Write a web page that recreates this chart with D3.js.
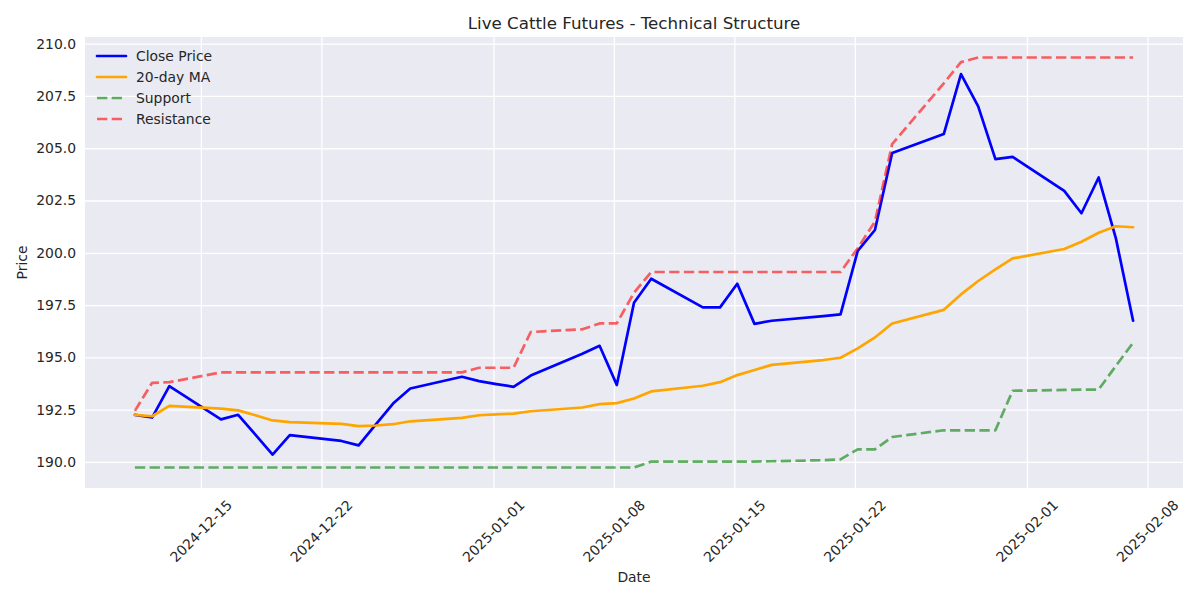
<!DOCTYPE html>
<html>
<head>
<meta charset="utf-8">
<script src="https://cdn.jsdelivr.net/npm/d3@7"></script>
<style>
  body { margin: 0; background: #ffffff; }
  svg { display: block; font-family: "DejaVu Sans", sans-serif; }
</style>
</head>
<body>
<svg id="chart" width="1200" height="600"></svg>
<script>
// ---- data ----
const dates = ["2024-12-11","2024-12-12","2024-12-13","2024-12-16","2024-12-17","2024-12-18","2024-12-19","2024-12-20","2024-12-23","2024-12-24","2024-12-25","2024-12-26","2024-12-27","2024-12-30","2024-12-31","2025-01-01","2025-01-02","2025-01-03","2025-01-06","2025-01-07","2025-01-08","2025-01-09","2025-01-10","2025-01-13","2025-01-14","2025-01-15","2025-01-16","2025-01-17","2025-01-20","2025-01-21","2025-01-22","2025-01-23","2025-01-24","2025-01-27","2025-01-28","2025-01-29","2025-01-30","2025-01-31","2025-02-03","2025-02-04","2025-02-05","2025-02-06","2025-02-07"];
const timeOfDay = "04:00";
const closePrice = [192.25,192.12,193.62,192.03,192.25,191.30,190.35,191.28,191.00,190.79,191.79,192.79,193.51,194.07,193.86,193.72,193.59,194.13,195.17,195.55,193.68,197.61,198.76,197.39,197.39,198.52,196.60,196.75,196.97,197.05,200.09,201.09,204.77,205.68,208.55,207.00,204.48,204.59,202.96,201.89,203.60,200.69,196.75];
const ma20 = [192.25,192.18,192.68,192.55,192.46,192.23,191.98,191.90,191.82,191.71,191.74,191.80,191.94,192.10,192.23,192.27,192.31,192.42,192.60,192.76,192.81,193.03,193.37,193.64,193.81,194.15,194.39,194.64,194.87,194.98,195.43,195.95,196.62,197.27,198.01,198.65,199.21,199.73,200.18,200.53,200.96,201.27,201.22];
const support = [189.73,189.73,189.73,189.73,189.73,189.73,189.73,189.73,189.73,189.73,189.73,189.73,189.73,189.73,189.73,189.73,189.73,189.73,189.73,189.73,189.73,189.73,190.01,190.01,190.01,190.01,190.01,190.03,190.08,190.12,190.60,190.60,191.19,191.51,191.51,191.51,191.51,193.40,193.44,193.45,193.46,194.59,195.70];
const resistance = [192.44,193.78,193.81,194.28,194.28,194.28,194.28,194.28,194.28,194.28,194.28,194.28,194.28,194.28,194.50,194.50,194.50,196.21,196.34,196.62,196.62,198.09,199.08,199.08,199.08,199.08,199.08,199.08,199.08,199.08,200.22,201.49,205.20,208.10,209.12,209.34,209.34,209.34,209.34,209.34,209.34,209.34,209.34];
const xTickDates = ["2024-12-15","2024-12-22","2025-01-01","2025-01-08","2025-01-15","2025-01-22","2025-02-01","2025-02-08"];
const yTicks = [190.0,192.5,195.0,197.5,200.0,202.5,205.0,207.5,210.0];
const seriesNames = ["Close Price","20-day MA","Support","Resistance"];

// ---- layout ----
const W = 1200, H = 600;
const plot = { left: 85, right: 1183, top: 37, bottom: 488 };
const textColor = "#262626";

const parseDT = d3.utcParse("%Y-%m-%d %H:%M");
const parseD = d3.utcParse("%Y-%m-%d");
const t = dates.map(d => parseDT(d + " " + timeOfDay));

const svg = d3.select("#chart");

// x scale with matplotlib-like 5% margins
const tExt = d3.extent(t);
const tPad = (tExt[1] - tExt[0]) * 0.05;
const x = d3.scaleUtc()
  .domain([new Date(+tExt[0] - tPad), new Date(+tExt[1] + tPad)])
  .range([plot.left, plot.right]);

const allVals = closePrice.concat(ma20, support, resistance);
const vExt = d3.extent(allVals);
const vPad = (vExt[1] - vExt[0]) * 0.05;
const y = d3.scaleLinear()
  .domain([vExt[0] - vPad, vExt[1] + vPad])
  .range([plot.bottom, plot.top]);

// background
svg.append("rect").attr("x", plot.left).attr("y", plot.top)
  .attr("width", plot.right - plot.left).attr("height", plot.bottom - plot.top)
  .attr("fill", "#EAEAF2");

const xt = xTickDates.map(parseD);

// gridlines via axes
const gx = svg.append("g")
  .attr("transform", `translate(0,${plot.bottom})`)
  .call(d3.axisBottom(x).tickValues(xt).tickSize(-(plot.bottom - plot.top)).tickFormat(""));
gx.select(".domain").remove();
gx.selectAll("line").attr("stroke", "#ffffff").attr("stroke-width", 1.3);

const gy = svg.append("g")
  .attr("transform", `translate(${plot.left},0)`)
  .call(d3.axisLeft(y).tickValues(yTicks).tickSize(-(plot.right - plot.left)).tickFormat(d3.format(".1f")).tickPadding(9));
gy.select(".domain").remove();
gy.selectAll("line").attr("stroke", "#ffffff").attr("stroke-width", 1.3);
gy.selectAll("text").attr("fill", textColor).attr("font-size", "13.9px")
  .attr("font-family", "DejaVu Sans, sans-serif");

// x tick labels rotated
const fmt = d3.utcFormat("%Y-%m-%d");
svg.append("g").selectAll("text").data(xt).join("text")
  .attr("transform", d => `translate(${x(d)},${plot.bottom + 43}) rotate(-45)`)
  .attr("text-anchor", "middle")
  .attr("dominant-baseline", "central")
  .attr("fill", textColor)
  .attr("font-size", "13.9px")
  .text(d => fmt(d));

// lines
const clipId = "plotclip";
svg.append("clipPath").attr("id", clipId).append("rect")
  .attr("x", plot.left).attr("y", plot.top)
  .attr("width", plot.right - plot.left).attr("height", plot.bottom - plot.top);

const lineGen = vals => d3.line().x((d, i) => x(t[i])).y(d => y(d))(vals);

const series = [
  { name: seriesNames[0], vals: closePrice, color: "#0000ff", dash: null, opacity: 1 },
  { name: seriesNames[1], vals: ma20, color: "#ffa500", dash: null, opacity: 1 },
  { name: seriesNames[2], vals: support, color: "#008000", dash: "10.3,4.4", opacity: 0.6 },
  { name: seriesNames[3], vals: resistance, color: "#ff0000", dash: "10.3,4.4", opacity: 0.6 }
];

const lg = svg.append("g").attr("clip-path", `url(#${clipId})`);
// draw in order: close, MA, support, resistance
series.forEach(s => {
  lg.append("path")
    .attr("d", lineGen(s.vals))
    .attr("fill", "none")
    .attr("stroke", s.color)
    .attr("stroke-opacity", s.opacity)
    .attr("stroke-width", 2.7)
    .attr("stroke-linejoin", "round")
    .attr("stroke-linecap", s.dash ? "butt" : "round")
    .attr("stroke-dasharray", s.dash);
});

// legend
const leg = svg.append("g");
series.forEach((s, i) => {
  const ly = 56 + i * 21;
  leg.append("line")
    .attr("x1", 97).attr("x2", 126).attr("y1", ly).attr("y2", ly)
    .attr("stroke", s.color).attr("stroke-opacity", s.opacity)
    .attr("stroke-width", 2.7)
    .attr("stroke-linecap", s.dash ? "butt" : "round")
    .attr("stroke-dasharray", s.dash);
  leg.append("text")
    .attr("x", 136).attr("y", ly)
    .attr("dominant-baseline", "central")
    .attr("fill", textColor).attr("font-size", "13.9px")
    .text(s.name);
});

// title & axis labels
svg.append("text")
  .attr("x", (plot.left + plot.right) / 2).attr("y", 29)
  .attr("text-anchor", "middle").attr("fill", textColor)
  .attr("font-size", "16.7px")
  .text("Live Cattle Futures - Technical Structure");

svg.append("text")
  .attr("x", (plot.left + plot.right) / 2).attr("y", 582)
  .attr("text-anchor", "middle").attr("fill", textColor)
  .attr("font-size", "13.9px")
  .text("Date");

svg.append("text")
  .attr("transform", `translate(22,${(plot.top + plot.bottom) / 2}) rotate(-90)`)
  .attr("text-anchor", "middle").attr("dominant-baseline", "central")
  .attr("fill", textColor)
  .attr("font-size", "13.9px")
  .text("Price");
</script>
</body>
</html>
